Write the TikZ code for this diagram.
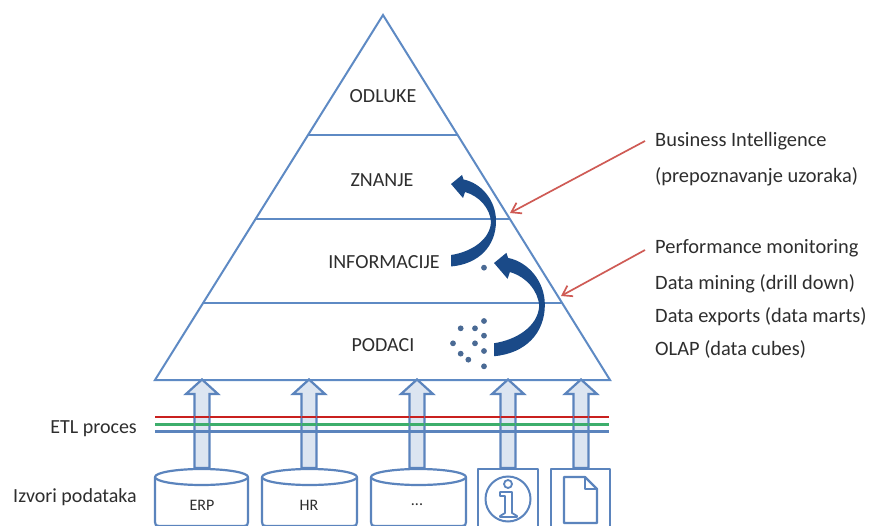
\documentclass[tikz,border=0pt]{standalone}
\usepackage{fontspec}
\setmainfont{Carlito}
\usetikzlibrary{arrows.meta}
\definecolor{lineblue}{HTML}{5B84BD}
\definecolor{pyrblue}{HTML}{5E8AC4}
\definecolor{fillblue}{HTML}{DCE5F1}
\definecolor{darkblue}{HTML}{1A4A88}
\definecolor{dotblue}{HTML}{4A6A94}
\definecolor{redline}{HTML}{C9201F}
\definecolor{greenline}{HTML}{3DAE6C}
\definecolor{callout}{HTML}{CF5B55}
\definecolor{txt}{HTML}{2E2E2E}
\tikzset{
  pyr/.style={draw=pyrblue,line width=2pt,line join=miter},
  label/.style={text=txt,font=\fontsize{20}{24}\selectfont,inner sep=0pt},
  sidelabel/.style={text=txt,font=\fontsize{20.4}{24}\selectfont,inner sep=0pt,anchor=west},
  small/.style={text=txt,font=\fontsize{16}{19}\selectfont,inner sep=0pt},
  src/.style={draw=lineblue,line width=2.2pt,fill=white,line join=round},
  block/.style={draw=lineblue,line width=2.2pt,fill=fillblue,line join=miter},
  calloutarrow/.style={draw=callout,line width=1.7pt,-{Straight Barb[length=9pt,width=12pt]}},
  curved/.style={fill=darkblue,draw=none},
  dotmark/.style={fill=dotblue,draw=none},
  band/.style={line width=2.8pt}
}
\newcommand{\blockarr}[1]{%
  \path[block] (#1-7.5,468) -- (#1-7.5,394) -- (#1-16,394) -- (#1,379.5) -- (#1+16,394) -- (#1+7.5,394) -- (#1+7.5,468) -- cycle;}
\newcommand{\cyl}[2]{%
  \path[src] (#1,477) -- (#1,522) .. controls (#1,525) and (#1+1,526) .. (#1+4,526) -- (#2-4,526) .. controls (#2-1,526) and (#2,525) .. (#2,522) -- (#2,477);
  \path[src] ({(#1+#2)/2},477) ellipse ({(#2-#1)/2} and 8);}
\newcommand{\curvarr}[3]{%
  \begin{scope}[shift={(#1,#2)},xscale=#3,yscale=#3]
  \path[curved] (0,0) -- (11,-9) -- (12.5,-4.5)
    .. controls (30,-1) and (45,16) .. (45,37)
    .. controls (45,62) and (28,80) .. (0,82.5)
    -- (0,71)
    .. controls (20,68) and (39,56) .. (40,38)
    .. controls (39,24) and (28,12) .. (14,8)
    -- (12,14) -- cycle;
  \end{scope}}
\begin{document}
\begin{tikzpicture}[x=1pt,y=-1pt]
\useasboundingbox (0,0) rectangle (869,526);
\fill[white] (0,0) rectangle (869,526);
\coordinate (apex) at (383,15);
\coordinate (bl) at (155,380);
\coordinate (br) at (610,380);
\coordinate (r1) at (309,135); \coordinate (r1e) at (458,135);
\coordinate (r2) at (256,219); \coordinate (r2e) at (510,219);
\coordinate (r3) at (204,303); \coordinate (r3e) at (562,303);
% block arrows
\blockarr{202}
\blockarr{309}
\blockarr{417}
\blockarr{508}
\blockarr{581}
\coordinate (bandl1) at (155,417); \coordinate (bandr1) at (609,417);
\coordinate (bandl2) at (155,424.5); \coordinate (bandr2) at (609,424.5);
\coordinate (bandl3) at (155,431.5); \coordinate (bandr3) at (609,431.5);
\draw[band,redline] (bandl1) -- (bandr1);
\draw[band,greenline] (bandl2) -- (bandr2);
\draw[band,lineblue] (bandl3) -- (bandr3);
\foreach \c in {202,309,417,508,581}{
  \draw[lineblue,line width=1.8pt,opacity=.7] (\c-7.5,412) -- (\c-7.5,436) (\c+7.5,412) -- (\c+7.5,436);
}
% pyramid
\draw[pyr] (apex) -- (bl) -- (br) -- cycle;
\draw[pyr] (r1) -- (r1e);
\draw[pyr] (r2) -- (r2e);
\draw[pyr] (r3) -- (r3e);
% sources
\cyl{155}{248}
\cyl{262}{357}
\cyl{371}{466}
\path[src] (478,469) rectangle (538,530);
\path[src] (551,469) rectangle (610,530);
\node[small] (erp) at (202,505) {ERP};
\node[small] (hr) at (309,505) {HR};
\node[small] (dots) at (417,505) {...};
% info icon
\draw[lineblue,line width=2pt] (508,499) circle (22.5);
\draw[lineblue,line width=1.8pt] (508,484) circle (4);
\draw[lineblue,line width=1.8pt,line join=round] (500,492) -- (512,492) -- (512,513) -- (517,516) -- (517,517) -- (500,517) -- (500,516) -- (505,513) -- (505,496) -- (500,496) -- cycle;
% document icon
\draw[lineblue,line width=2.2pt,line join=round] (564,477) -- (585,477) -- (597,489) -- (597,523) -- (564,523) -- cycle;
\draw[lineblue,line width=1.6pt,line join=round] (585,477) -- (585,489) -- (597,489);
% curved arrows
\curvarr{451}{184}{1}
\curvarr{494}{263}{1.13}
% dots
\foreach \x/\y in {252/323,252/483,182/505,225/505,252/527,159/550,225/550,252/573,182/581,205/599,252/619}{
  \path[dotmark] ({400+\x/3},{160+\y/3}) circle (2.9);
}
% labels
\node[label] (odluke) at (383,96) {ODLUKE};
\node[label] (znanje) at (382,180) {ZNANJE};
\node[label] (info) at (384,262) {INFORMACIJE};
\node[label] (podaci) at (383,345) {PODACI};
\node[sidelabel] (bi1) at (655,141) {Business Intelligence};
\node[sidelabel] (bi2) at (655,177) {(prepoznavanje uzoraka)};
\node[sidelabel] (pm1) at (655,248) {Performance monitoring};
\node[sidelabel] (pm2) at (655,284) {Data mining (drill down)};
\node[sidelabel] (pm3) at (655,317) {Data exports (data marts)};
\node[sidelabel] (pm4) at (655,349) {OLAP (data cubes)};
\node[label,anchor=east] (etl) at (137,429) {ETL proces};
\node[label,anchor=east] (izv) at (137,497) {Izvori podataka};
% callout arrows
\coordinate (c1s) at (645,141); \coordinate (c1e) at (510,213);
\coordinate (c2s) at (645,250); \coordinate (c2e) at (561,296);
\draw[calloutarrow] (c1s) -- (c1e);
\draw[calloutarrow] (c2s) -- (c2e);
\end{tikzpicture}
\end{document}
